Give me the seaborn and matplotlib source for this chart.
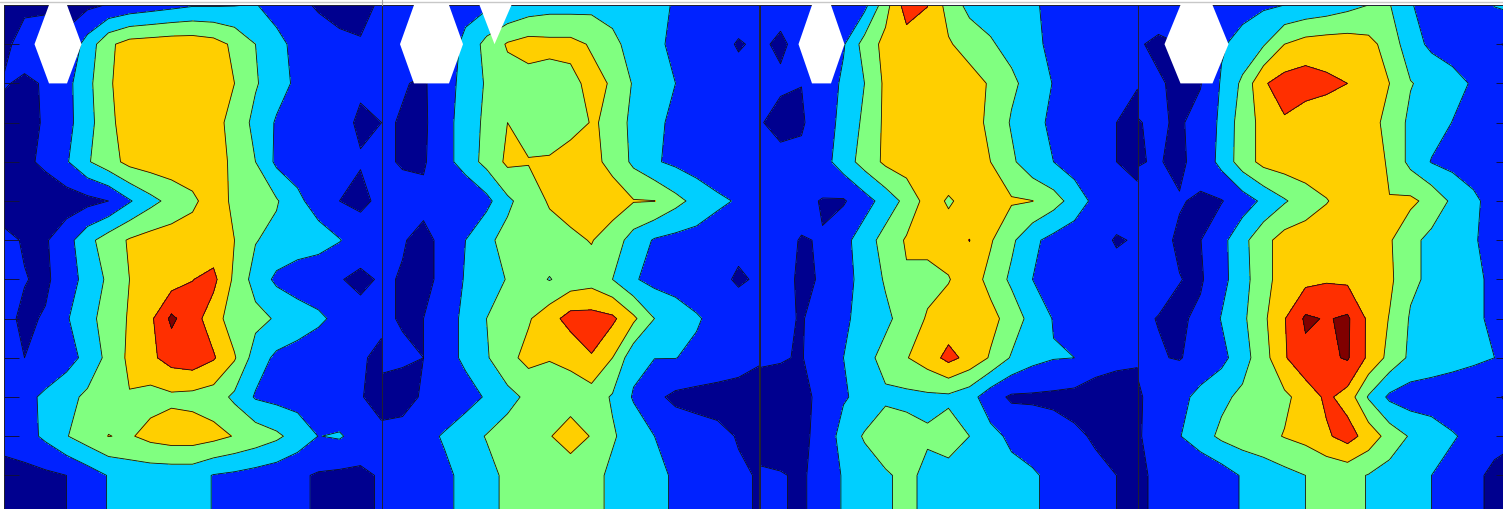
import numpy as np
import matplotlib
matplotlib.use("Agg")
import matplotlib.pyplot as plt
from matplotlib.lines import Line2D
import seaborn as sns

# gridded values per panel, one list per row, 19 columns
panel1 = [
    [.7,.7,.7,.7,.8,1.05,1.3,1.5,1.7,1.9,1.9,1.95,2.05,1.6,1.2,.9,.7,.8,1.1],
    [.6,1.6,1.9,1.2,2.4,3.8,4.4,4.5,4.6,4.6,4.4,3.8,3.0,2.3,1.7,1.4,1.2,1.05,1.2],
    [1.1,.8,1.1,1.7,2.7,3.9,4.4,4.6,4.6,4.6,4.5,4.0,3.1,2.4,1.8,1.4,1.2,1.1,1.2],
    [.6,.7,1.1,1.7,2.6,3.8,4.4,4.6,4.6,4.6,4.3,3.7,2.7,1.9,1.6,1.4,1.2,.9,1.0],
    [.6,.8,1.2,1.9,2.9,3.6,4.3,4.5,4.6,4.6,4.4,3.8,3.0,1.8,1.6,1.4,1.2,1.05,1.1],
    [.4,.4,.4,.5,.7,1.0,1.9,2.7,3.3,3.8,4.5,3.8,3.4,3.1,2.2,1.6,1.0,.8,1.2],
    [1.3,.9,.9,1.6,2.7,3.5,4.1,4.4,4.5,4.5,4.4,4.0,3.05,2.7,2.5,2.4,2.05,1.5,1.2],
    [1.3,1.05,.8,1.6,2.3,3.2,4.0,4.3,4.5,4.98,5.25,3.8,2.6,1.8,1.5,1.3,1.05,.8,1.1],
    [1.3,.8,1.1,1.9,2.7,3.4,4.1,4.8,6.2,5.4,4.5,3.4,3.3,2.9,2.5,2.2,1.7,1.3,1.1],
    [1.2,1.0,1.2,1.6,2.3,3.3,4.2,4.8,5.4,5.6,5.1,4.1,2.5,1.8,1.6,1.3,1.2,1.05,.9],
    [1.3,1.7,2.2,2.7,3.2,3.6,3.95,3.65,3.8,3.7,3.5,2.8,1.9,1.7,1.6,1.4,1.2,1.05,.7],
    [1.2,1.6,2.2,2.95,3.5,4.02,3.9,4.3,4.5,4.5,4.3,3.95,3.6,3.2,2.6,1.98,2.1,1.6,1.2],
    [.8,.7,.8,1.0,1.5,2.05,2.4,2.4,2.4,2.4,1.95,1.8,1.6,1.4,1.15,.9,.8,.8,1.1],
    [.8,.7,.8,1.0,1.5,2.05,2.4,2.4,2.4,2.4,1.95,1.8,1.6,1.4,1.15,.9,.8,.8,1.1],
]
panel2 = [
    [1.1,1.2,1.3,1.4,1.6,1.8,2.0,2.4,2.6,2.6,2.7,2.7,2.6,2.3,1.9,1.6,1.4,1.3,1.2],
    [1.1,1.5,1.4,1.3,2.3,3.3,4.1,4.4,4.3,4.3,3.9,3.2,2.7,2.2,1.8,1.4,1.2,.95,1.1],
    [1.1,1.05,.9,1.5,2.4,3.1,3.6,3.6,3.5,3.7,4.3,3.9,2.9,2.4,2.0,1.5,1.3,1.2,1.1],
    [1.1,.95,.85,1.6,2.5,3.2,4.0,3.6,3.5,3.6,4.05,3.9,2.6,2.2,1.8,1.4,1.3,1.2,1.0],
    [1.1,.95,.9,1.6,2.5,3.3,4.2,4.05,4.1,4.5,4.3,3.7,2.8,2.1,1.8,1.5,1.3,1.2,1.1],
    [1.2,1.2,1.2,1.2,1.0,1.7,2.8,3.5,4.1,4.4,4.5,4.5,4.05,4.02,3.3,2.7,2.2,1.9,1.3],
    [1.2,1.05,.8,1.2,2.0,2.8,3.3,3.5,3.6,3.8,4.05,3.5,2.6,1.9,1.7,1.6,1.4,1.2,1.1],
    [1.1,.95,.8,1.2,2.1,2.6,3.05,3.4,2.95,3.4,3.6,3.0,2.1,1.7,1.5,1.4,1.2,.9,1.1],
    [1.1,.95,1.0,1.6,2.2,3.0,3.5,3.9,4.6,5.4,5.4,5.2,4.2,3.0,2.6,2.1,1.7,1.4,1.2],
    [1.2,1.1,1.0,1.6,2.2,2.9,3.7,4.3,4.05,4.2,4.95,4.0,2.3,2.02,2.02,1.8,1.5,1.3,1.1],
    [.7,.7,1.1,1.3,1.6,2.1,2.7,3.2,3.5,3.6,3.5,2.9,1.9,1.2,.8,.7,.7,.7,.6],
    [1.2,1.3,1.7,2.1,2.6,3.05,3.4,3.7,3.95,4.4,3.95,3.1,2.6,2.0,1.6,1.4,1.2,.95,.8],
    [1.0,1.3,1.5,1.8,2.25,2.7,3.2,3.5,3.5,3.5,3.3,2.8,2.5,2.2,1.9,1.6,1.4,1.1,.95],
    [1.0,1.3,1.5,1.8,2.25,2.7,3.2,3.5,3.5,3.5,3.3,2.8,2.5,2.2,1.9,1.6,1.4,1.1,.95],
]
panel3 = [
    [1.1,1.2,1.3,1.4,1.5,1.7,3.6,5.5,5.02,3.6,2.7,2.6,2.5,2.1,1.8,1.5,1.3,1.2,1.1],
    [1.1,.9,1.2,1.5,1.9,3.4,4.3,4.5,4.6,4.1,3.6,3.1,2.7,2.2,1.8,1.5,1.3,1.2,1.1],
    [1.1,1.1,1.01,1.3,2.2,3.0,4.2,4.5,4.6,4.6,4.4,3.9,3.2,2.6,1.95,1.5,1.3,1.2,1.05],
    [1.05,.8,.9,1.5,2.3,3.2,4.2,4.5,4.6,4.6,4.4,3.8,2.9,2.3,1.8,1.5,1.2,1.0,.7],
    [1.2,1.2,1.2,1.6,2.5,3.4,4.2,4.5,4.6,4.6,4.5,4.0,3.2,2.3,2.0,1.5,1.2,1.0,.8],
    [1.3,1.2,1.2,.95,.9,1.6,2.4,3.3,4.4,3.9,4.3,4.5,4.1,4.02,3.4,2.6,1.7,1.3,1.2],
    [1.2,1.15,.97,1.03,1.7,2.5,3.4,4.1,4.3,4.4,5.02,4.1,3.2,2.2,1.7,1.4,1.2,.95,1.05],
    [1.2,1.2,.9,1.05,1.6,2.4,3.1,3.9,3.7,3.95,4.5,3.7,2.8,2.0,1.7,1.4,1.2,1.2,1.2],
    [1.2,1.15,.95,1.3,1.85,2.3,2.8,3.4,4.1,4.4,4.5,4.3,3.6,2.6,1.95,1.5,1.3,1.2,1.2],
    [1.1,1.05,.95,1.5,2.0,2.7,3.3,3.95,4.5,5.3,4.7,3.9,2.9,2.3,2.05,2.0,1.4,1.2,1.1],
    [.7,.7,.8,1.2,1.9,2.3,2.85,2.75,2.8,2.8,2.4,1.4,.85,.85,.8,.7,.6,.6,.7],
    [.7,.6,.8,1.3,2.4,3.1,3.5,3.4,3.1,3.5,3.0,2.3,1.8,1.6,1.4,1.15,.9,.7,.7],
    [1.1,1.05,.9,1.3,2.1,2.5,2.9,3.2,2.8,2.6,2.5,2.4,2.3,2.1,1.8,1.5,1.2,1.0,.7],
    [1.1,1.05,.9,1.3,2.1,2.5,2.9,3.2,2.8,2.6,2.5,2.4,2.3,2.1,1.8,1.5,1.2,1.0,.7],
]
panel4 = [
    [1.2,1.3,1.4,1.5,1.6,1.7,1.85,2.0,2.2,2.4,2.7,3.0,3.05,2.05,1.7,1.5,1.4,2.05,2.3],
    [1.05,.9,1.0,1.2,1.9,2.3,2.9,4.0,4.4,4.5,4.5,4.3,3.6,2.4,1.8,1.6,1.4,1.05,.9],
    [1.2,1.05,.9,.95,2.1,3.2,4.9,5.4,5.5,5.2,5.0,4.5,4.0,3.05,2.7,2.3,1.9,1.6,1.3],
    [.97,1.1,.9,1.3,2.2,3.5,4.3,4.9,4.4,4.5,4.5,4.5,3.6,2.8,2.4,1.98,1.7,1.5,1.2],
    [.97,1.04,.85,1.3,2.3,3.5,4.3,4.5,4.6,4.6,4.6,4.4,3.9,2.7,1.95,1.7,1.5,1.3,1.2],
    [1.2,1.1,1.05,.9,.95,1.5,2.2,2.9,3.5,3.95,4.4,4.2,4.02,4.2,3.7,2.8,2.2,1.6,1.3],
    [1.05,1.2,.9,.98,1.7,2.7,3.7,4.4,4.5,4.6,4.6,4.5,4.1,3.3,2.7,2.4,2.1,1.6,1.3],
    [1.1,1.2,1.02,.88,1.7,2.6,3.7,4.4,4.7,4.9,4.8,4.6,4.2,3.2,2.8,2.5,2.2,1.8,1.5],
    [1.1,.98,.85,1.2,2.05,2.8,3.8,4.95,6.15,5.93,6.15,4.8,3.95,2.9,2.6,2.4,2.2,1.8,1.5],
    [1.1,1.05,.95,1.3,1.7,2.6,3.6,4.9,5.75,5.8,6.1,4.8,3.7,2.8,2.6,2.4,2.2,2.0,1.7],
    [.9,1.3,1.7,2.3,2.8,3.2,3.5,3.8,4.4,5.2,4.6,2.9,1.8,1.5,1.4,1.3,1.2,1.05,.9],
    [.9,1.4,1.95,2.6,3.2,3.5,3.7,4.05,4.3,4.85,5.4,4.6,3.6,2.9,2.6,2.1,1.7,1.3,1.1],
    [.9,1.1,1.2,1.1,1.5,2.1,2.4,2.7,3.0,3.2,3.3,2.95,2.6,2.3,2.0,1.6,1.2,.8,.7],
    [.9,1.1,1.2,1.1,1.5,2.1,2.4,2.7,3.0,3.2,3.3,2.95,2.6,2.3,2.0,1.6,1.2,.8,.7],
]
levels = [0, 1, 2, 3, 4, 5, 6, 7]
band_colors = ["#00008F", "#0022FF", "#00CFFF", "#80FF80", "#FFCF00", "#FF2F00", "#800000"]

sns.set_style("white")
palette = sns.color_palette(band_colors)

W, H = 1503, 509
fig = plt.figure(figsize=(W / 100, H / 100), dpi=100)
panels = [panel1, panel2, panel3, panel4]
lefts = [3.5, 381.5, 759.5, 1137.5]
holes = [(54.5, 23.5, 9), (50, 31.5, 17.5), (62, 23, 9.5), (59, 32, 16)]
top, bottom = 5, 514.6
dx = 21

for i, panel in enumerate(panels):
    z = np.array(panel)
    ax = fig.add_axes([lefts[i] / W, (H - bottom) / H, 378 / W, (bottom - top) / H])
    x = np.arange(z.shape[1]) * dx
    y = np.arange(z.shape[0])
    ax.contourf(x, y, z, levels=levels, colors=palette)
    ax.contour(x, y, z, levels=levels[1:-1], colors="#101010", linewidths=0.6)
    cx, hw, tw = holes[i]
    ax.fill([cx - tw, cx + tw, cx + hw, cx + tw, cx - tw, cx - hw],
            [0, 0, 1, 2, 2, 1], color="white", lw=0, zorder=5)
    if i == 1:
        ax.fill([98, 130, 113], [0, 0, 1], color="white", lw=0, zorder=5)
    ax.set_xlim(0, 378)
    ax.set_ylim(13, 0)
    ax.set_xticks([])
    ax.set_yticks([])
    ax.set_axisbelow(False)
    if i == 0:
        ax.set_yticks(range(1, 13))
        ax.tick_params(axis="y", direction="in", length=10.8, width=0.7, color="#101040",
                       left=True, labelleft=False)
    if i == 3:
        ax.set_yticks(range(1, 13))
        ax.tick_params(axis="y", direction="in", length=14.4, width=0.7, color="#101040",
                       left=False, right=True, labelleft=False)
    for s in ax.spines.values():
        s.set_linewidth(0.7)
        s.set_color("#202030")

fig.add_artist(Line2D([0, 1], [1 - 1.5 / H, 1 - 1.5 / H], color="#c8c8c8", lw=1))
fig.add_artist(Line2D([381.5 / W, 381.5 / W], [1 - 5 / H, 1], color="#a0a0a0", lw=0.8))

fig.savefig("out.png", dpi=100)
